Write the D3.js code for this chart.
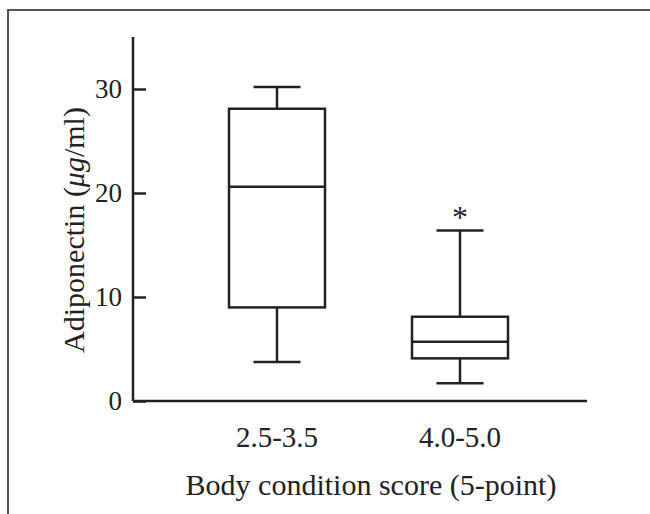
<!DOCTYPE html>
<html>
<head>
<meta charset="utf-8">
<script src="https://cdn.jsdelivr.net/npm/d3@7"></script>
<style>
  body { margin: 0; background: #fff; }
  text { font-family: "Liberation Serif", "Times New Roman", serif; fill: #222; }
</style>
</head>
<body>
<svg id="chart"></svg>
<script>
// box plot data
const groups = ['2.5-3.5', '4.0-5.0']
const whiskerLow = [3.75, 1.7]
const q1 = [9.0, 4.1]
const medians = [20.6, 5.7]
const q3 = [28.1, 8.1]
const whiskerHigh = [30.2, 16.4]
const marks = ['', '*']
const yTicks = [0, 10, 20, 30]

const Width = 650
const Height = 514
const svg = d3.select('#chart').attr('width', Width).attr('height', Height)

// frame round the figure (top and left only visible)
svg.append('path')
  .attr('d', 'M8,' + Height + ' V10 H' + Width)
  .attr('fill', 'none').attr('stroke', '#555').attr('stroke-width', 2)

const axLeft = 133, axRight = 587, axTop = 37, axBottom = 401

const y = d3.scaleLinear().domain([0, 35]).range([axBottom, axTop])
const x = d3.scalePoint().domain(groups).range([277, 460])

const boxW = 96, capW = 47

// y axis: ticks point inwards
const yAxis = svg.append('g').attr('transform', 'translate(' + axLeft + ',0)')
  .call(d3.axisRight(y).tickValues(yTicks).tickSize(13).tickFormat(''))
yAxis.select('.domain').remove()
yAxis.selectAll('line').attr('stroke', '#222').attr('stroke-width', 2.5)
svg.append('line').attr('x1', axLeft).attr('x2', axLeft).attr('y1', axTop).attr('y2', axBottom)
  .attr('stroke', '#222').attr('stroke-width', 2.5)
svg.selectAll('.ylab').data(yTicks).enter().append('text')
  .attr('x', axLeft - 11).attr('y', d => y(d) + 9)
  .attr('text-anchor', 'end').attr('font-size', 27)
  .text(d => d)

// x axis
svg.append('line').attr('x1', axLeft).attr('x2', axRight).attr('y1', axBottom).attr('y2', axBottom)
  .attr('stroke', '#222').attr('stroke-width', 2.5)
svg.selectAll('.xlab').data(groups).enter().append('text')
  .attr('x', d => x(d)).attr('y', 447)
  .attr('text-anchor', 'middle').attr('font-size', 29)
  .text(d => d)

svg.append('text').attr('x', 371).attr('y', 495)
  .attr('text-anchor', 'middle').attr('font-size', 30)
  .text('Body condition score (5-point)')

const yt = svg.append('text')
  .attr('transform', 'translate(84,230) rotate(-90)')
  .attr('text-anchor', 'middle').attr('font-size', 30)
yt.append('tspan').text('Adiponectin (')
yt.append('tspan').attr('font-style', 'italic').text('\u03bcg')
yt.append('tspan').text('/ml)')

// boxes
const boxes = svg.selectAll('.box').data(groups).enter().append('g')
  .attr('stroke', '#222').attr('stroke-width', 2.5).attr('fill', 'none')

boxes.append('line')
  .attr('x1', d => x(d)).attr('x2', d => x(d))
  .attr('y1', (d, i) => y(whiskerHigh[i])).attr('y2', (d, i) => y(q3[i]))
boxes.append('line')
  .attr('x1', d => x(d)).attr('x2', d => x(d))
  .attr('y1', (d, i) => y(q1[i])).attr('y2', (d, i) => y(whiskerLow[i]))
boxes.append('line')
  .attr('x1', d => x(d) - capW / 2).attr('x2', d => x(d) + capW / 2)
  .attr('y1', (d, i) => y(whiskerHigh[i])).attr('y2', (d, i) => y(whiskerHigh[i]))
boxes.append('line')
  .attr('x1', d => x(d) - capW / 2).attr('x2', d => x(d) + capW / 2)
  .attr('y1', (d, i) => y(whiskerLow[i])).attr('y2', (d, i) => y(whiskerLow[i]))
boxes.append('rect')
  .attr('x', d => x(d) - boxW / 2).attr('width', boxW)
  .attr('y', (d, i) => y(q3[i])).attr('height', (d, i) => y(q1[i]) - y(q3[i]))
boxes.append('line')
  .attr('x1', d => x(d) - boxW / 2).attr('x2', d => x(d) + boxW / 2)
  .attr('y1', (d, i) => y(medians[i])).attr('y2', (d, i) => y(medians[i]))

// significance mark
svg.selectAll('.mark').data(groups).enter().append('text')
  .attr('x', d => x(d)).attr('y', (d, i) => y(whiskerHigh[i]) - 2)
  .attr('text-anchor', 'middle').attr('font-size', 32)
  .text((d, i) => marks[i])
</script>
</body>
</html>
